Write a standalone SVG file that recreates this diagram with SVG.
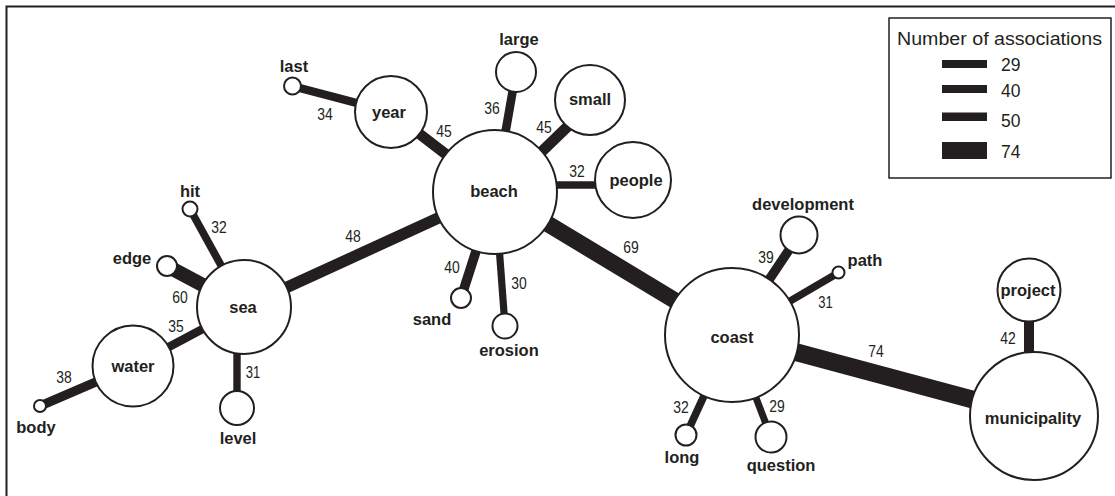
<svg xmlns="http://www.w3.org/2000/svg" width="1115" height="496" viewBox="0 0 1115 496">
<style>
.node{fill:#fff;stroke:#231f20;stroke-width:2}
.lbl{font-family:"Liberation Sans",Arial,sans-serif;font-weight:bold;font-size:16.5px;fill:#231f20;text-anchor:middle}
.num{font-family:"Liberation Sans",Arial,sans-serif;font-size:17px;fill:#231f20;text-anchor:middle}
.edge{stroke:#231f20;fill:none}
.leg{font-family:"Liberation Sans",Arial,sans-serif;font-size:17.5px;fill:#231f20}
</style>
<rect x="0" y="0" width="1115" height="496" fill="#fff"/>
<rect x="6.5" y="6.5" width="1120" height="500" fill="none" stroke="#231f20" stroke-width="2"/>
<g id="connectors">
<line class="edge" x1="292" y1="86" x2="391" y2="112" stroke-width="8.2"/>
<line class="edge" x1="391" y1="112" x2="495" y2="192" stroke-width="10.8"/>
<line class="edge" x1="516" y1="72" x2="495" y2="192" stroke-width="8.6"/>
<line class="edge" x1="595" y1="100" x2="500" y2="192" stroke-width="10.8"/>
<line class="edge" x1="495" y1="185" x2="633" y2="185" stroke-width="7.7"/>
<line class="edge" x1="244" y1="307" x2="495" y2="192" stroke-width="11.5"/>
<line class="edge" x1="495" y1="192" x2="732" y2="335" stroke-width="16.6"/>
<line class="edge" x1="461" y1="298" x2="495" y2="192" stroke-width="9.6"/>
<line class="edge" x1="505" y1="326" x2="495" y2="192" stroke-width="7.2"/>
<line class="edge" x1="190" y1="209" x2="244" y2="307" stroke-width="7.7"/>
<line class="edge" x1="167" y1="266" x2="244" y2="307" stroke-width="14.4"/>
<line class="edge" x1="133" y1="366" x2="244" y2="307" stroke-width="8.4"/>
<line class="edge" x1="40" y1="406" x2="133" y2="366" stroke-width="9.1"/>
<line class="edge" x1="237" y1="307" x2="237" y2="408" stroke-width="7.4"/>
<line class="edge" x1="799" y1="235" x2="732" y2="335" stroke-width="9.4"/>
<line class="edge" x1="838" y1="273" x2="732" y2="335" stroke-width="7.4"/>
<line class="edge" x1="686" y1="435" x2="732" y2="335" stroke-width="7.7"/>
<line class="edge" x1="771" y1="437" x2="732" y2="335" stroke-width="7"/>
<line class="edge" x1="732" y1="335" x2="1034" y2="416" stroke-width="17.8"/>
<line class="edge" x1="1029" y1="290" x2="1029" y2="416" stroke-width="10"/>
</g>
<g id="edge-labels">
<text class="num" x="325" y="120" textLength="15.5" lengthAdjust="spacingAndGlyphs">34</text>
<text class="num" x="444" y="136.5" textLength="15.5" lengthAdjust="spacingAndGlyphs">45</text>
<text class="num" x="492" y="114" textLength="15.5" lengthAdjust="spacingAndGlyphs">36</text>
<text class="num" x="544" y="133" textLength="15.5" lengthAdjust="spacingAndGlyphs">45</text>
<text class="num" x="577" y="176.5" textLength="15.5" lengthAdjust="spacingAndGlyphs">32</text>
<text class="num" x="353" y="241.5" textLength="15.5" lengthAdjust="spacingAndGlyphs">48</text>
<text class="num" x="631" y="252.5" textLength="15.5" lengthAdjust="spacingAndGlyphs">69</text>
<text class="num" x="452" y="273" textLength="15.5" lengthAdjust="spacingAndGlyphs">40</text>
<text class="num" x="519" y="289" textLength="15.5" lengthAdjust="spacingAndGlyphs">30</text>
<text class="num" x="219" y="232.5" textLength="15.5" lengthAdjust="spacingAndGlyphs">32</text>
<text class="num" x="180" y="302.5" textLength="15.5" lengthAdjust="spacingAndGlyphs">60</text>
<text class="num" x="176" y="331.5" textLength="15.5" lengthAdjust="spacingAndGlyphs">35</text>
<text class="num" x="64" y="382.5" textLength="15.5" lengthAdjust="spacingAndGlyphs">38</text>
<text class="num" x="253" y="378" textLength="14.5" lengthAdjust="spacingAndGlyphs">31</text>
<text class="num" x="766" y="262.5" textLength="15.5" lengthAdjust="spacingAndGlyphs">39</text>
<text class="num" x="825.5" y="308" textLength="14.5" lengthAdjust="spacingAndGlyphs">31</text>
<text class="num" x="681" y="413" textLength="15.5" lengthAdjust="spacingAndGlyphs">32</text>
<text class="num" x="777" y="411.5" textLength="15.5" lengthAdjust="spacingAndGlyphs">29</text>
<text class="num" x="1008" y="344" textLength="15.5" lengthAdjust="spacingAndGlyphs">42</text>
<text class="num" x="876" y="356.5" textLength="15.5" lengthAdjust="spacingAndGlyphs">74</text>
</g>
<g id="node-beach"><circle class="node" cx="495" cy="192" r="62"/><text class="lbl" x="494" y="197">beach</text></g>
<g id="node-year"><circle class="node" cx="391" cy="112" r="36"/><text class="lbl" x="389" y="118">year</text></g>
<g id="node-last"><circle class="node" cx="292.5" cy="86" r="8.5"/><text class="lbl" x="294" y="72">last</text></g>
<g id="node-large"><circle class="node" cx="516" cy="72" r="20"/><text class="lbl" x="519" y="45">large</text></g>
<g id="node-small"><circle class="node" cx="590" cy="100" r="35"/><text class="lbl" x="590" y="105">small</text></g>
<g id="node-people"><circle class="node" cx="633" cy="180" r="38"/><text class="lbl" x="636" y="186">people</text></g>
<g id="node-sand"><circle class="node" cx="461" cy="298" r="10"/><text class="lbl" x="432" y="325">sand</text></g>
<g id="node-erosion"><circle class="node" cx="505" cy="326" r="12.5"/><text class="lbl" x="509" y="355.5">erosion</text></g>
<g id="node-sea"><circle class="node" cx="244" cy="307" r="47"/><text class="lbl" x="243" y="313">sea</text></g>
<g id="node-hit"><circle class="node" cx="190" cy="209" r="7.5"/><text class="lbl" x="190" y="196.5">hit</text></g>
<g id="node-edge"><circle class="node" cx="167" cy="266" r="10"/><text class="lbl" x="132" y="264">edge</text></g>
<g id="node-water"><circle class="node" cx="133" cy="366" r="40.5"/><text class="lbl" x="133" y="371.5">water</text></g>
<g id="node-body"><circle class="node" cx="40" cy="406" r="6"/><text class="lbl" x="36" y="433">body</text></g>
<g id="node-level"><circle class="node" cx="237" cy="408" r="17"/><text class="lbl" x="238" y="444">level</text></g>
<g id="node-coast"><circle class="node" cx="732" cy="335" r="67"/><text class="lbl" x="732" y="343">coast</text></g>
<g id="node-development"><circle class="node" cx="799" cy="235" r="18.5"/><text class="lbl" x="803" y="209.5">development</text></g>
<g id="node-path"><circle class="node" cx="838.5" cy="272.5" r="6"/><text class="lbl" x="865" y="265.5">path</text></g>
<g id="node-long"><circle class="node" cx="686" cy="435" r="10.5"/><text class="lbl" x="682" y="462.5">long</text></g>
<g id="node-question"><circle class="node" cx="771" cy="437" r="15.5"/><text class="lbl" x="781" y="470.5">question</text></g>
<g id="node-municipality"><circle class="node" cx="1034" cy="416" r="64"/><text class="lbl" x="1033" y="424">municipality</text></g>
<g id="node-project"><circle class="node" cx="1029" cy="290" r="31.5"/><text class="lbl" x="1028" y="295.5">project</text></g>
<g id="legend">
<rect x="889" y="18" width="222" height="160" fill="#fff" stroke="#231f20" stroke-width="1.5"/>
<text class="leg" x="897" y="45" textLength="205" lengthAdjust="spacingAndGlyphs">Number of associations</text>
<rect x="942" y="60" width="45" height="8" fill="#231f20"/>
<rect x="942" y="85" width="45" height="8" fill="#231f20"/>
<rect x="942" y="112.5" width="45" height="8.5" fill="#231f20"/>
<rect x="942" y="142" width="45" height="17" fill="#231f20"/>
<text class="leg" x="1001" y="71">29</text>
<text class="leg" x="1001" y="96.5">40</text>
<text class="leg" x="1001" y="126.5">50</text>
<text class="leg" x="1001" y="158">74</text>
</g>
</svg>
